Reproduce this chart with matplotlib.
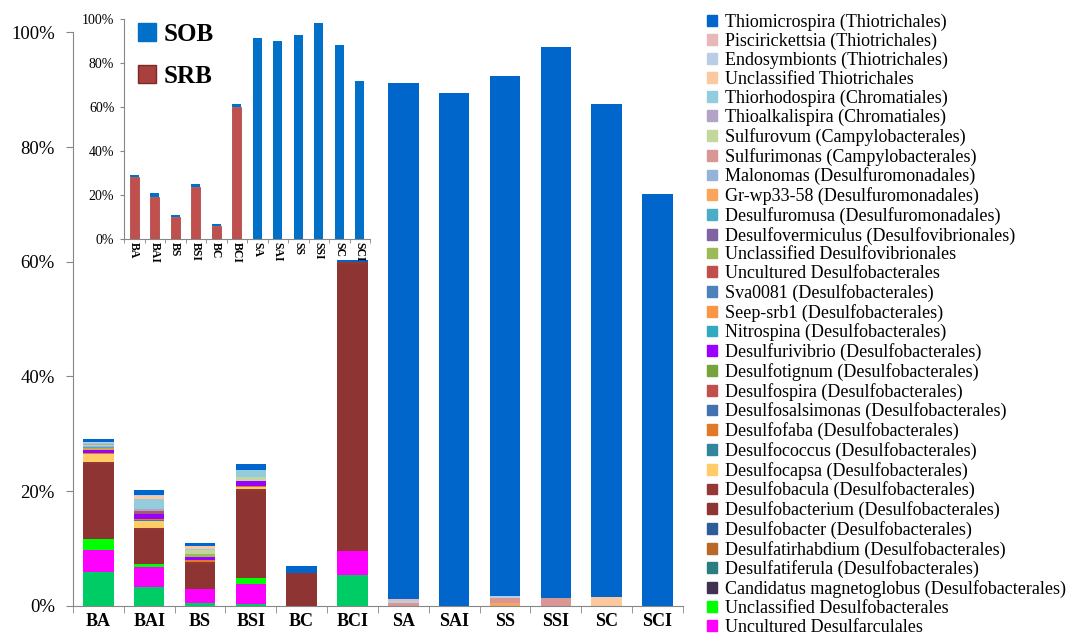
import numpy as np
import matplotlib
matplotlib.use("Agg")
import matplotlib.pyplot as plt
from matplotlib.patches import Patch

plt.rcParams['font.family'] = ['Liberation Serif', 'DejaVu Serif']

samples = ["BA", "BAI", "BS", "BSI", "BC", "BCI", "SA", "SAI", "SS", "SSI", "SC", "SCI"]

# relative abundance (%), main chart, one list per genus
thiomicrospira = [0.4, 0.9, 0.5, 1.05, 1.1, 0.3, 90.1, 89.4, 90.6, 96.1, 85.9, 71.8]
piscirickettsia = [0.1, 0.0, 0.0, 0.0, 0.0, 0.0, 0.3, 0.0, 0.0, 0.0, 0.0, 0.0]
endosymbionts = [0.1, 0.2, 0.0, 0.0, 0.0, 0.0, 0.3, 0.0, 0.45, 0.0, 0.0, 0.0]
uncl_thiotrichales = [0.1, 0.5, 0.5, 0.0, 0.0, 0.0, 0.0, 0.0, 0.0, 0.0, 1.6, 0.0]
thiorhodospira = [0.2, 1.7, 0.3, 1.15, 0.0, 0.0, 0.0, 0.0, 0.0, 0.0, 0.0, 0.0]
thioalkalispira = [0.1, 0.3, 0.0, 0.0, 0.0, 0.0, 0.0, 0.0, 0.0, 0.0, 0.0, 0.0]
sulfurovum = [0.15, 0.0, 0.6, 0.6, 0.0, 0.0, 0.0, 0.0, 0.0, 0.0, 0.0, 0.0]
sulfurimonas = [0.1, 0.2, 0.0, 0.0, 0.0, 0.0, 0.5, 0.0, 0.9, 1.3, 0.0, 0.0]
malonomas = [0.1, 0.0, 0.0, 0.0, 0.0, 0.0, 0.0, 0.0, 0.0, 0.0, 0.0, 0.0]
gr_wp33_58 = [0.0, 0.0, 0.0, 0.0, 0.0, 0.0, 0.0, 0.0, 0.4, 0.0, 0.0, 0.0]
desulfuromusa = [0.1, 0.0, 0.0, 0.0, 0.0, 0.0, 0.0, 0.0, 0.0, 0.0, 0.0, 0.0]
desulfovermiculus = [0.1, 0.3, 0.0, 0.0, 0.0, 0.0, 0.0, 0.0, 0.0, 0.0, 0.0, 0.0]
uncl_desulfovibrionales = [0.1, 0.0, 0.5, 0.0, 0.0, 0.0, 0.0, 0.0, 0.0, 0.0, 0.0, 0.0]
uncult_desulfobacterales = [0.05, 0.1, 0.0, 0.0, 0.0, 0.0, 0.0, 0.0, 0.0, 0.0, 0.0, 0.0]
sva0081 = [0.05, 0.0, 0.0, 0.0, 0.0, 0.0, 0.0, 0.0, 0.0, 0.0, 0.0, 0.0]
seep_srb1 = [0.05, 0.0, 0.0, 0.0, 0.0, 0.0, 0.0, 0.0, 0.0, 0.0, 0.0, 0.0]
nitrospina = [0.05, 0.0, 0.0, 0.0, 0.0, 0.0, 0.0, 0.0, 0.0, 0.0, 0.0, 0.0]
desulfurivibrio = [0.5, 1.0, 0.6, 0.9, 0.0, 0.0, 0.0, 0.0, 0.0, 0.0, 0.0, 0.0]
desulfotignum = [0.0, 0.0, 0.0, 0.0, 0.0, 0.0, 0.0, 0.0, 0.0, 0.0, 0.0, 0.0]
desulfospira = [0.0, 0.0, 0.0, 0.0, 0.0, 0.0, 0.0, 0.0, 0.0, 0.0, 0.0, 0.0]
desulfosalsimonas = [0.0, 0.0, 0.0, 0.0, 0.0, 0.0, 0.0, 0.0, 0.0, 0.0, 0.0, 0.0]
desulfofaba = [0.15, 0.15, 0.4, 0.25, 0.0, 0.0, 0.0, 0.0, 0.0, 0.0, 0.0, 0.0]
desulfococcus = [0.0, 0.1, 0.0, 0.0, 0.0, 0.0, 0.0, 0.0, 0.0, 0.0, 0.0, 0.0]
desulfocapsa = [1.45, 1.2, 0.0, 0.3, 0.0, 0.0, 0.0, 0.0, 0.0, 0.0, 0.0, 0.0]
desulfobacula = [0.3, 0.3, 0.2, 0.3, 0.0, 0.3, 0.0, 0.0, 0.0, 0.0, 0.0, 0.0]
desulfobacterium = [13.2, 6.0, 4.5, 15.2, 5.8, 50.1, 0.0, 0.0, 0.0, 0.0, 0.0, 0.0]
desulfobacter = [0.0, 0.0, 0.0, 0.0, 0.0, 0.0, 0.0, 0.0, 0.0, 0.0, 0.0, 0.0]
desulfatirhabdium = [0.0, 0.0, 0.0, 0.0, 0.0, 0.0, 0.0, 0.0, 0.0, 0.0, 0.0, 0.0]
desulfatiferula = [0.0, 0.0, 0.0, 0.0, 0.0, 0.0, 0.0, 0.0, 0.0, 0.0, 0.0, 0.0]
candidatus_magnetoglobus = [0.0, 0.0, 0.0, 0.0, 0.0, 0.0, 0.0, 0.0, 0.0, 0.0, 0.0, 0.0]
uncl_desulfobacterales = [1.8, 0.6, 0.0, 1.1, 0.0, 0.0, 0.0, 0.0, 0.0, 0.0, 0.0, 0.0]
uncult_desulfarculales = [3.9, 3.4, 2.35, 3.55, 0.0, 4.2, 0.0, 0.0, 0.0, 0.0, 0.0, 0.0]
# green base segment, no legend entry in the original
unlisted_green = [5.9, 3.3, 0.5, 0.25, 0.0, 5.35, 0.0, 0.0, 0.0, 0.0, 0.0, 0.0]

# inset: SOB vs SRB totals (%)
sob = [0.9, 1.9, 0.7, 1.35, 0.95, 1.1, 91.2, 90.0, 92.7, 98.0, 88.0, 71.9]
srb = [28.1, 19.1, 10.3, 23.75, 6.05, 60.2, 0.0, 0.0, 0.0, 0.0, 0.0, 0.0]

# legend order = top of stack first
series = [
    ("Thiomicrospira (Thiotrichales)", thiomicrospira, "#0066CC"),
    ("Piscirickettsia (Thiotrichales)", piscirickettsia, "#E6B9B8"),
    ("Endosymbionts (Thiotrichales)", endosymbionts, "#B9CDE5"),
    ("Unclassified Thiotrichales", uncl_thiotrichales, "#FCC8A0"),
    ("Thiorhodospira (Chromatiales)", thiorhodospira, "#93CDDD"),
    ("Thioalkalispira (Chromatiales)", thioalkalispira, "#B3A2C7"),
    ("Sulfurovum (Campylobacterales)", sulfurovum, "#C3D69B"),
    ("Sulfurimonas (Campylobacterales)", sulfurimonas, "#D99694"),
    ("Malonomas (Desulfuromonadales)", malonomas, "#95B3D7"),
    ("Gr-wp33-58 (Desulfuromonadales)", gr_wp33_58, "#F9A65A"),
    ("Desulfuromusa (Desulfuromonadales)", desulfuromusa, "#4BACC6"),
    ("Desulfovermiculus (Desulfovibrionales)", desulfovermiculus, "#8064A2"),
    ("Unclassified Desulfovibrionales", uncl_desulfovibrionales, "#9BBB59"),
    ("Uncultured Desulfobacterales", uncult_desulfobacterales, "#C0504D"),
    ("Sva0081 (Desulfobacterales)", sva0081, "#4F81BD"),
    ("Seep-srb1 (Desulfobacterales)", seep_srb1, "#F79646"),
    ("Nitrospina (Desulfobacterales)", nitrospina, "#31A9C0"),
    ("Desulfurivibrio (Desulfobacterales)", desulfurivibrio, "#9900FF"),
    ("Desulfotignum (Desulfobacterales)", desulfotignum, "#77A33C"),
    ("Desulfospira (Desulfobacterales)", desulfospira, "#C0504D"),
    ("Desulfosalsimonas (Desulfobacterales)", desulfosalsimonas, "#4472B0"),
    ("Desulfofaba (Desulfobacterales)", desulfofaba, "#E07A26"),
    ("Desulfococcus (Desulfobacterales)", desulfococcus, "#31859C"),
    ("Desulfocapsa (Desulfobacterales)", desulfocapsa, "#FFCC66"),
    ("Desulfobacula (Desulfobacterales)", desulfobacula, "#953735"),
    ("Desulfobacterium (Desulfobacterales)", desulfobacterium, "#8E3432"),
    ("Desulfobacter (Desulfobacterales)", desulfobacter, "#2E5C9A"),
    ("Desulfatirhabdium (Desulfobacterales)", desulfatirhabdium, "#B8692A"),
    ("Desulfatiferula (Desulfobacterales)", desulfatiferula, "#2A7D80"),
    ("Candidatus magnetoglobus (Desulfobacterales)", candidatus_magnetoglobus, "#403152"),
    ("Unclassified Desulfobacterales", uncl_desulfobacterales, "#00FF00"),
    ("Uncultured Desulfarculales", uncult_desulfarculales, "#FF00FF"),
]

axis_gray = "#868686"

fig = plt.figure(figsize=(10.72, 6.35), dpi=100)

# main stacked chart
ax = fig.add_axes([0.068, 0.046, 0.569, 0.903])
x = np.arange(len(samples))
bottom = np.zeros(len(samples))
ax.bar(x, unlisted_green, 0.6, bottom=bottom, color="#00CC66", linewidth=0)
bottom += np.array(unlisted_green)
for name, vals, col in reversed(series):
    ax.bar(x, vals, 0.6, bottom=bottom, color=col, linewidth=0)
    bottom += np.array(vals)

ax.set_xlim(-0.5, len(samples) - 0.5)
ax.set_ylim(0, 100)
ax.set_yticks(range(0, 101, 20))
ax.set_yticklabels([f"{v}%" for v in range(0, 101, 20)], fontsize=13.5)
ax.set_xticks(x)
ax.set_xticklabels(samples, fontsize=13, fontweight="bold")
ax.set_xticks(np.arange(-0.5, len(samples), 1), minor=True)
ax.tick_params(axis="x", which="major", length=0, pad=5)
ax.tick_params(axis="x", which="minor", length=5, color=axis_gray)
ax.tick_params(axis="y", length=5, color=axis_gray, pad=8)
for s in ["top", "right"]:
    ax.spines[s].set_visible(False)
for s in ["left", "bottom"]:
    ax.spines[s].set_color(axis_gray)

# inset SOB / SRB
ins = fig.add_axes([0.1157, 0.623, 0.2295, 0.347])
ins.bar(x, srb, 0.45, color="#C0504D", edgecolor="#A03C3A", linewidth=0.5)
ins.bar(x, sob, 0.45, bottom=srb, color="#0070C8", linewidth=0)
ins.set_xlim(-0.5, len(samples) - 0.5)
ins.set_ylim(0, 100)
ins.set_yticks(range(0, 101, 20))
ins.set_yticklabels([f"{v}%" for v in range(0, 101, 20)], fontsize=10)
ins.set_xticks(x)
ins.set_xticklabels(samples, fontsize=8.5, fontweight="bold", rotation=-90)
ins.set_xticks(np.arange(-0.5, len(samples), 1), minor=True)
ins.tick_params(axis="x", which="major", length=0, pad=2)
ins.tick_params(axis="x", which="minor", length=3, color=axis_gray)
ins.tick_params(axis="y", length=3, color=axis_gray, pad=4)
for s in ["top", "right"]:
    ins.spines[s].set_visible(False)
for s in ["left", "bottom"]:
    ins.spines[s].set_color(axis_gray)
ins.legend([Patch(color="#0070C8"), Patch(facecolor="#A8403D", edgecolor="#7A2A28")],
           ["SOB", "SRB"], loc="upper left", bbox_to_anchor=(-0.035, 1.085),
           frameon=False, prop={"weight": "bold", "size": 18},
           handlelength=0.72, handleheight=0.72, handletextpad=0.3, labelspacing=0.75)

# right-hand legend
handles = [Patch(color=col) for _, _, col in series]
labels = [name for name, _, _ in series]
fig.legend(handles, labels, loc="upper left", bbox_to_anchor=(0.653, 0.99),
           frameon=False, fontsize=13, handlelength=0.55, handleheight=0.55,
           handletextpad=0.45, labelspacing=0.1, borderaxespad=0)

fig.savefig("out.png", dpi=100)
